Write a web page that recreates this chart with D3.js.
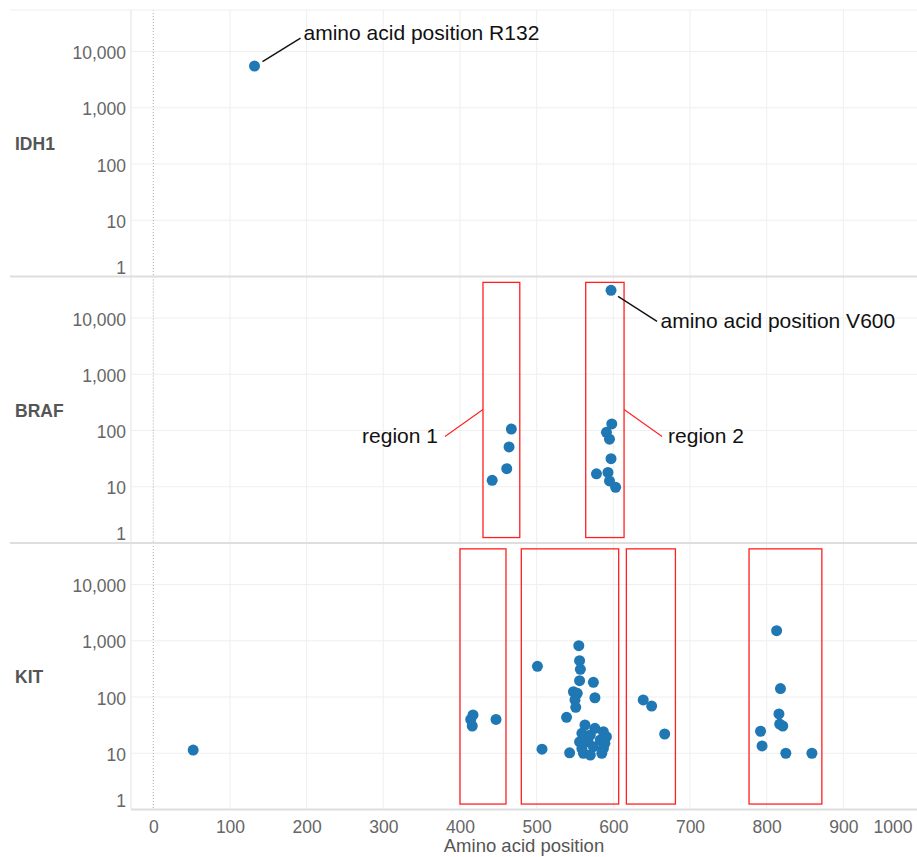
<!DOCTYPE html>
<html><head><meta charset="utf-8">
<script src="https://cdn.jsdelivr.net/npm/d3@7"></script>
<style>body{margin:0;background:#fff} svg{display:block}</style>
</head><body><svg id="c" width="917" height="857"></svg>
<script>
// ---------- data ----------
const genes = ["IDH1", "BRAF", "KIT"];
const idh1Pos   = [132];
const idh1Count = [5500];
const brafPos   = [597, 467, 464, 461, 442, 598, 591, 595, 597, 578, 593, 595, 603];
const brafCount = [31000, 106, 51, 21, 13, 131, 93, 70, 31.5, 17, 18, 12.7, 9.8];
const kitPos   = [52, 417, 414, 416, 447,
                  555, 556, 557, 556, 574, 501, 548, 553, 576, 550, 551, 539, 507, 543,
                  563, 576, 587, 559, 570, 591, 556, 567, 583, 589, 559, 574, 587, 561, 570, 585,
                  639, 650, 667,
                  813, 818, 816, 821, 817, 792, 794, 825, 859];
const kitCount = [11.4, 48, 40, 30.5, 40,
                  817, 442, 311, 195, 182, 351, 124, 116, 97, 88.5, 65.6, 43.6, 11.8, 10.2,
                  31.8, 27.8, 24.2, 22.6, 21.1, 19.7, 16, 16, 17.2, 15, 12.2, 13.1, 12.2, 10, 9.3, 10,
                  88.5, 69, 22,
                  1510, 141, 50, 30.5, 33, 24.6, 13.5, 10, 10];
const xTicks = [0, 100, 200, 300, 400, 500, 600, 700, 800, 900, 1000];
const yTicks = [1, 10, 100, 1000, 10000];
const brafRegions = [[430, 478], [564, 614]];
const brafRegionNames = ["region 1", "region 2"];
const kitRegions = [[400, 460], [480, 607], [617, 681], [777, 872]];
const regionCountRange = [1.25, 43000];
const noteGenes = ["IDH1", "BRAF"];
const notePos = [132, 597];
const noteCount = [5500, 31000];
const noteTexts = ["amino acid position R132", "amino acid position V600"];
const xTitle = "Amino acid position";

(function () {
// ---------- layout ----------
const plotLeft = 131, plotRight = 917, plotTop = 10, panelH = 266.5, decade = 56.25;
const font = "'Liberation Sans', Arial, Helvetica, sans-serif";
const svg = d3.select("#c").style("font-family", font);

const x = d3.scaleLinear().domain([0, 1000]).range([153.3, 920]);
const yMax = Math.pow(10, panelH / decade);
const ys = genes.map((g, i) => d3.scaleLog().domain([1, yMax])
  .range([plotTop + (i + 1) * panelH, plotTop + i * panelH]));

const series = {
  IDH1: idh1Pos.map((p, i) => ({p, c: idh1Count[i]})),
  BRAF: brafPos.map((p, i) => ({p, c: brafCount[i]})),
  KIT: kitPos.map((p, i) => ({p, c: kitCount[i]}))
};

// grid
genes.forEach((g, i) => {
  const y = ys[i];
  const gp = svg.append("g");
  gp.selectAll("line.h").data(yTicks.slice(1)).join("line").attr("class", "h")
    .attr("x1", plotLeft).attr("x2", plotRight)
    .attr("y1", d => y(d)).attr("y2", d => y(d))
    .attr("stroke", "#efefef").attr("stroke-width", 1);
  gp.selectAll("line.v").data(xTicks.slice(1)).join("line").attr("class", "v")
    .attr("x1", d => x(d)).attr("x2", d => x(d))
    .attr("y1", y.range()[1]).attr("y2", y.range()[0])
    .attr("stroke", "#efefef").attr("stroke-width", 1);
  gp.append("line").attr("x1", x(0)).attr("x2", x(0))
    .attr("y1", y.range()[1]).attr("y2", y.range()[0])
    .attr("stroke", "#aaa").attr("stroke-width", 1).attr("stroke-dasharray", "1,2");
});

// borders
svg.append("line").attr("x1", 10).attr("x2", plotRight).attr("y1", plotTop).attr("y2", plotTop)
  .attr("stroke", "#eeeeee").attr("stroke-width", 1);
genes.forEach((g, i) => {
  const yb = ys[i].range()[0];
  svg.append("line").attr("x1", i < 2 ? 10 : plotLeft).attr("x2", plotRight).attr("y1", yb).attr("y2", yb)
    .attr("stroke", "#dedede").attr("stroke-width", 2);
});
svg.append("line").attr("x1", plotLeft).attr("x2", plotLeft).attr("y1", plotTop).attr("y2", ys[2].range()[0])
  .attr("stroke", "#e2e2e2").attr("stroke-width", 1);

// y axes
genes.forEach((g, i) => {
  const ax = svg.append("g").attr("transform", `translate(${plotLeft},0)`)
    .call(d3.axisLeft(ys[i]).tickValues(yTicks).tickFormat(d3.format(",")).tickSize(0).tickPadding(5));
  ax.select(".domain").remove();
  ax.selectAll("text").attr("font-size", 17.5).attr("fill", "#666").attr("font-family", font)
    .attr("dy", d => d === 1 ? "-0.2em" : "0.4em");
  svg.append("text").attr("x", 15).attr("y", (ys[i].range()[0] + ys[i].range()[1]) / 2 + 7)
    .attr("font-size", 17.5).attr("font-weight", "bold").attr("fill", "#555").text(g);
});

// x axis
const xa = svg.append("g").attr("transform", `translate(0,${ys[2].range()[0]})`)
  .call(d3.axisBottom(x).tickValues(xTicks).tickFormat(d3.format("d")).tickSize(0).tickPadding(11));
xa.select(".domain").remove();
xa.selectAll("text").attr("font-size", 17.5).attr("fill", "#666").attr("font-family", font)
  .attr("text-anchor", d => d === 1000 ? "end" : "middle")
  .attr("dx", d => d === 1000 ? (912 - x(1000)) : 0);
svg.append("text").attr("x", (plotLeft + plotRight) / 2).attr("y", 852)
  .attr("text-anchor", "middle").attr("font-size", 18.5).attr("fill", "#555").text(xTitle);

// region boxes
function boxes(regions, yi) {
  svg.append("g").selectAll("rect").data(regions).join("rect")
    .attr("x", d => x(d[0])).attr("width", d => x(d[1]) - x(d[0]))
    .attr("y", ys[yi](regionCountRange[1]))
    .attr("height", ys[yi](regionCountRange[0]) - ys[yi](regionCountRange[1]))
    .attr("fill", "none").attr("stroke", "#ff2020").attr("stroke-width", 1.3);
}
boxes(brafRegions, 1);
boxes(kitRegions, 2);

// points
genes.forEach((g, i) => {
  svg.append("g").selectAll("circle").data(series[g]).join("circle")
    .attr("cx", d => x(d.p)).attr("cy", d => ys[i](d.c)).attr("r", 5.5)
    .attr("fill", "#1f77b4");
});

// point annotations
const noteOffsets = [[8, -4.5, 46, -28, 49, -26], [7, 6, 46, 31, 49.5, 37.5]];
noteTexts.forEach((t, k) => {
  const gi = genes.indexOf(noteGenes[k]);
  const px = x(notePos[k]), py = ys[gi](noteCount[k]);
  const o = noteOffsets[k];
  svg.append("line").attr("x1", px + o[0]).attr("y1", py + o[1])
    .attr("x2", px + o[2]).attr("y2", py + o[3]).attr("stroke", "#111").attr("stroke-width", 1.4);
  svg.append("text").attr("x", px + o[4]).attr("y", py + o[5])
    .attr("font-size", 21).attr("fill", "#111").text(t);
});

// region labels
brafRegionNames.forEach((t, k) => {
  const r = brafRegions[k];
  const yT = ys[1].range()[1];
  const ly = yT + 133;
  if (k === 0) {
    const ex = x(r[0]);
    svg.append("line").attr("x1", ex).attr("y1", ly).attr("x2", ex - 38).attr("y2", ly + 27)
      .attr("stroke", "#ff2020").attr("stroke-width", 1.1);
    svg.append("text").attr("x", ex - 45).attr("y", ly + 33).attr("text-anchor", "end")
      .attr("font-size", 21).attr("fill", "#111").text(t);
  } else {
    const ex = x(r[1]);
    svg.append("line").attr("x1", ex).attr("y1", ly).attr("x2", ex + 38).attr("y2", ly + 27)
      .attr("stroke", "#ff2020").attr("stroke-width", 1.1);
    svg.append("text").attr("x", ex + 44).attr("y", ly + 33).attr("text-anchor", "start")
      .attr("font-size", 21).attr("fill", "#111").text(t);
  }
});
})();
</script></body></html>
